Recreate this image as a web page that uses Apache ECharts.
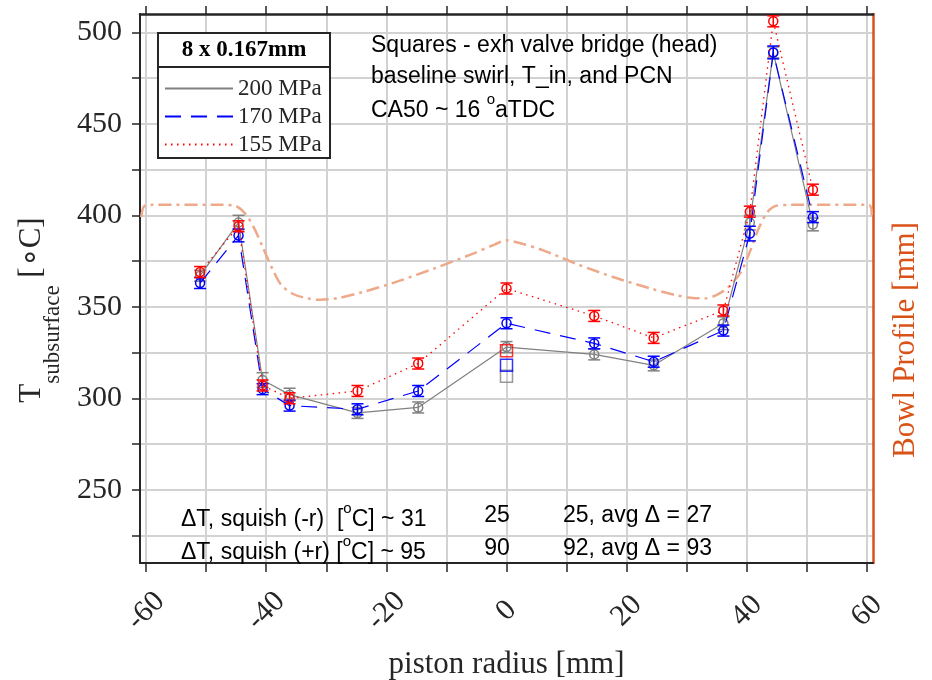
<!DOCTYPE html>
<html>
<head>
<meta charset="utf-8">
<script src="https://cdn.jsdelivr.net/npm/echarts@6/dist/echarts.min.js"></script>
<style>
  html, body { margin: 0; padding: 0; background: #fff; }
  #main { width: 932px; height: 680px; }
</style>
</head>
<body>
<div id="main"></div>
<script>
// piston radius of each thermocouple [mm]
var radius = [-51, -44.6, -40.6, -36.1, -24.8, -14.7, 0, 14.6, 24.5, 36.1, 40.5, 44.4, 51];
// subsurface temperature [°C] and error
var t200 = [367, 396, 310, 302, 292, 295, 328, 324, 318, 341, 396, 489, 395];
var e200 = [3, 4, 4, 3.5, 3, 3, 3, 3, 3, 3.5, 4, 3, 3.5];
var t170 = [363, 389, 305, 296, 294, 304, 341, 330, 320, 337, 390, 489, 399];
var e170 = [3, 3.5, 3, 3, 3, 3, 3, 3, 3, 3, 4, 3.5, 3];
var t155 = [369, 394, 307, 300, 304, 319, 360, 345, 333, 348, 402, 506, 414];
var e155 = [3, 3, 3, 3, 3, 3, 3, 3, 3, 3, 3, 3, 3];

// squares - exh valve bridge (head)
var sqRadius = [0];
var sq200 = [312];
var sq170 = [318];
var sq155 = [326];

// bowl profile (right axis)
var bowlR = [-60.8, -60.3, -59, -47, -45, -43.5, -42, -40.5, -39, -37.5, -35.5, -33, -31, -28, -24, -18, -12, -6, -2, 0,
             2, 6, 12, 18, 24, 28, 31, 33, 35, 37, 39, 40.5, 42, 43.5, 45, 47, 60.3, 60.8];
var bowlDepth = [399, 405, 405.7, 405.7, 405, 401, 393, 382, 371, 362, 357, 354.5, 353.8, 354.8, 358, 364, 371, 378.5, 384, 386.3,
                 385, 381, 373, 366, 360, 356.5, 354.8, 354.6, 356.5, 361, 369, 380, 393, 402, 405.3, 405.7, 405.7, 400];

// ticks
var xTicks = [-60, -50, -40, -30, -20, -10, 0, 10, 20, 30, 40, 50, 60];
var xLabels = [-60, -40, -20, 0, 20, 40, 60];
var yTicks = [225, 250, 275, 300, 325, 350, 375, 400, 425, 450, 475, 500];
var yLabels = [250, 300, 350, 400, 450, 500];

var SERIF = "'Liberation Serif', 'Times New Roman', serif";
var SANS = "'Liberation Sans', Arial, sans-serif";
var INK = '#262626';
var GRID = '#d2d2d2';

function pairs(xs, ys) {
    var out = [];
    for (var i = 0; i < xs.length; i++) out.push([xs[i], ys[i]]);
    return out;
}
function triples(xs, ys, es) {
    var out = [];
    for (var i = 0; i < xs.length; i++) out.push([xs[i], ys[i], es[i]]);
    return out;
}

//误差棒 + 圆圈
function errRender(color) {
    return function (params, api) {
        var x = api.value(0), y = api.value(1), e = api.value(2);
        var c = api.coord([x, y]);
        var hi = api.coord([x, y + e]);
        var lo = api.coord([x, y - e]);
        var w = 6;
        var st = { stroke: color, lineWidth: 1.5, fill: null };
        return {
            type: 'group',
            children: [
                { type: 'line', shape: { x1: c[0], y1: hi[1], x2: c[0], y2: lo[1] }, style: st },
                { type: 'line', shape: { x1: c[0] - w, y1: hi[1], x2: c[0] + w, y2: hi[1] }, style: st },
                { type: 'line', shape: { x1: c[0] - w, y1: lo[1], x2: c[0] + w, y2: lo[1] }, style: st },
                { type: 'circle', shape: { cx: c[0], cy: c[1], r: 4.5 }, style: st }
            ]
        };
    };
}

// 上标文字
function supText(x, y, text) {
    return {
        type: 'text', z: 9, x: x, y: y,
        style: {
            text: text, verticalAlign: 'middle',
            rich: {
                n: { font: '23px ' + SANS, fill: '#000', lineHeight: 30, verticalAlign: 'bottom' },
                s: { font: '15px ' + SANS, fill: '#000', lineHeight: 30, verticalAlign: 'top' }
            }
        }
    };
}
function plainText(x, y, text, align) {
    return { type: 'text', z: 9, x: x, y: y, style: { text: text, font: '23px ' + SANS, fill: '#000', align: align || 'left', verticalAlign: 'middle' } };
}

var chart = echarts.init(document.getElementById('main'));

var option = {
    animation: false,
    backgroundColor: '#fff',
    grid: { left: 140, right: 59, top: 14, bottom: 117, outerBoundsMode: 'none' },
    legend: {
        data: ['200 MPa', '170 MPa', '155 MPa'],
        orient: 'vertical',
        left: 159,
        top: 72,
        itemWidth: 68,
        itemHeight: 14,
        itemGap: 5,
        z: 10,
        itemStyle: { opacity: 0 },
        textStyle: { fontFamily: SERIF, fontSize: 23, color: INK, lineHeight: 23 }
    },
    graphic: [
        { type: 'rect', z: 8, shape: { x: 158, y: 33, width: 172, height: 125 }, style: { fill: '#fff', stroke: INK, lineWidth: 2 } },
        { type: 'line', z: 9, shape: { x1: 158, y1: 67, x2: 330, y2: 67 }, style: { stroke: INK, lineWidth: 2 } },
        { type: 'text', z: 9, x: 244, y: 50, style: { text: '8 x 0.167mm', font: 'bold 23px ' + SERIF, fill: '#000', align: 'center', verticalAlign: 'middle' } },

        plainText(371, 46, 'Squares - exh valve bridge (head)'),
        plainText(371, 77, 'baseline swirl, T_in, and PCN'),
        supText(371, 107, '{n|CA50 ~ 16 }{s|o}{n|aTDC}'),

        supText(181, 516, '{n|\u0394T, squish (-r)  [}{s|o}{n|C] ~ 31}'),
        plainText(497, 516, '25', 'center'),
        plainText(563, 516, '25, avg \u0394 = 27'),

        supText(181, 549, '{n|\u0394T, squish (+r) [}{s|o}{n|C] ~ 95}'),
        plainText(497, 549, '90', 'center'),
        plainText(563, 549, '92, avg \u0394 = 93'),

        // y轴标题
        {
            type: 'text', z: 9, x: 40, y: 310, rotation: Math.PI / 2,
            style: {
                text: '{t|T}{s|subsurface}{t| [\u2218C]}', align: 'center', verticalAlign: 'middle',
                rich: {
                    t: { font: '31px ' + SERIF, fill: INK, lineHeight: 31, verticalAlign: 'top' },
                    s: { font: '23px ' + SERIF, fill: INK, lineHeight: 48, verticalAlign: 'bottom' }
                }
            }
        },
        {
            type: 'text', z: 9, x: 906, y: 340, rotation: Math.PI / 2,
            style: { text: 'Bowl Profile [mm]', font: '31px ' + SERIF, fill: '#D95319', align: 'center', verticalAlign: 'middle' }
        }
    ],
    xAxis: [{
        type: 'value', min: -61, max: 61, position: 'bottom',
        axisLine: { onZero: false, lineStyle: { color: INK, width: 2 } },
        axisTick: { customValues: xTicks, length: 9, lineStyle: { color: INK, width: 1.5 } },
        axisLabel: { customValues: xLabels, rotate: 45, align: 'center', verticalAlign: 'middle', margin: 48,
                     fontFamily: SERIF, fontSize: 30, color: INK },
        splitLine: { show: true, lineStyle: { color: GRID, width: 2 } },
        name: 'piston radius [mm]', nameLocation: 'middle', nameGap: 102,
        nameTextStyle: { fontFamily: SERIF, fontSize: 31, color: INK, verticalAlign: 'middle' }
    }, {
        type: 'value', min: -61, max: 61, position: 'top',
        axisLine: { onZero: false, lineStyle: { color: INK, width: 2.5 } },
        axisTick: { customValues: xTicks, length: 8, lineStyle: { color: INK, width: 1.5 } },
        axisLabel: { show: false },
        splitLine: { show: false }
    }],
    yAxis: [{
        type: 'value', min: 210, max: 510, position: 'left',
        axisLine: { onZero: false, lineStyle: { color: INK, width: 2 } },
        axisTick: { customValues: yTicks, length: 8, lineStyle: { color: INK, width: 1.5 } },
        axisLabel: { customValues: yLabels, margin: 18, fontFamily: SERIF, fontSize: 30, color: INK },
        splitLine: { show: true, lineStyle: { color: GRID, width: 2 } }
    }, {
        type: 'value', min: 210, max: 510, position: 'right',
        axisLine: { onZero: false, lineStyle: { color: '#D95319', width: 2.5 } },
        axisTick: { show: false },
        axisLabel: { show: false },
        splitLine: { show: false }
    }],
    series: [
        {
            name: 'bowl', type: 'line', yAxisIndex: 1, data: pairs(bowlR, bowlDepth),
            symbol: 'none', smooth: 0.3, silent: true, z: 1,
            lineStyle: { color: '#EDA98A', width: 2.5, type: [13, 5, 3, 5] }
        },
        {
            name: '200 MPa', type: 'line', data: pairs(radius, t200), symbol: 'none', z: 3,
            lineStyle: { color: '#808080', width: 1.2, type: 'solid' }, itemStyle: { color: '#808080' }
        },
        { name: '200 MPa err', type: 'custom', data: triples(radius, t200, e200), renderItem: errRender('#808080'), z: 3 },
        {
            name: '200 MPa sq', type: 'scatter', data: pairs(sqRadius, sq200), symbol: 'rect', symbolSize: 12, z: 3,
            itemStyle: { color: 'rgba(0,0,0,0)', borderColor: '#808080', borderWidth: 1.5 }
        },
        {
            name: '170 MPa', type: 'line', data: pairs(radius, t170), symbol: 'none', z: 4,
            lineStyle: { color: '#0000ff', width: 1.2, type: [16, 10] }, itemStyle: { color: '#0000ff' }
        },
        { name: '170 MPa err', type: 'custom', data: triples(radius, t170, e170), renderItem: errRender('#0000ff'), z: 4 },
        {
            name: '170 MPa sq', type: 'scatter', data: pairs(sqRadius, sq170), symbol: 'rect', symbolSize: 12, z: 4,
            itemStyle: { color: 'rgba(0,0,0,0)', borderColor: '#0000ff', borderWidth: 1.5 }
        },
        {
            name: '155 MPa', type: 'line', data: pairs(radius, t155), symbol: 'none', z: 5,
            lineStyle: { color: '#ff0000', width: 1.3, type: [1.5, 4.5] }, itemStyle: { color: '#ff0000' }
        },
        { name: '155 MPa err', type: 'custom', data: triples(radius, t155, e155), renderItem: errRender('#ff0000'), z: 5 },
        {
            name: '155 MPa sq', type: 'scatter', data: pairs(sqRadius, sq155), symbol: 'rect', symbolSize: 12, z: 5,
            itemStyle: { color: 'rgba(0,0,0,0)', borderColor: '#ff0000', borderWidth: 1.5 }
        }
    ]
};

chart.setOption(option);
</script>
</body>
</html>
